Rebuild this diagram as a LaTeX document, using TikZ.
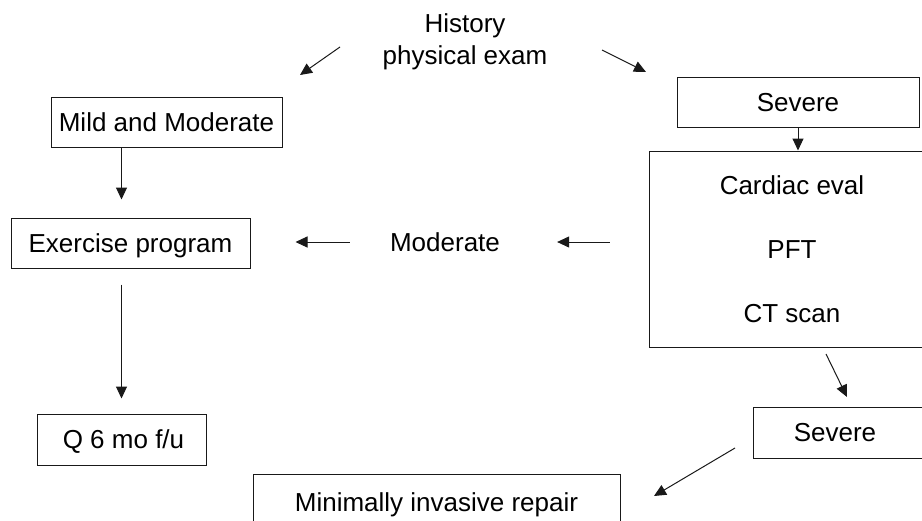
\documentclass[tikz,border=0pt]{standalone}
\usepackage{fontspec}
\setmainfont{Liberation Sans}
\usetikzlibrary{positioning, arrows.meta, calc}

\begin{document}
\begin{tikzpicture}[
        x=1pt, y=-1pt,
        font=\fontsize{26}{32}\selectfont,
        % Estilo para las cajas
        box/.style={
            draw=black!90,
            line width=1pt,
            rectangle,
            inner sep=0pt,
            align=center
        },
        % Una sola linea, centrada en las mayusculas
        oneline/.style={text height=24pt, text depth=5.4pt},
        % Texto sin marco
        plain/.style={inner sep=0pt, align=center},
        % Flechas
        arrow/.style={-{Triangle[length=12pt,width=11pt]}, line width=1pt, color=black!90}
    ]
        \useasboundingbox (0,0) rectangle (922,520);
        \clip (0,0) rectangle (922,520);

        % Nodo inicial
        \node[plain] (hist) at (465,42) {History\\physical exam};

        % Rama izquierda
        \node[box, oneline, minimum width=231pt, minimum height=50pt] (mild) at (166.5,122) {Mild and Moderate};
        \node[box, oneline, minimum width=239pt, minimum height=50pt] (exer) at (130.5,243) {Exercise program};
        \node[box, oneline, minimum width=169pt, minimum height=51pt] (qfu) at (121.5,439.5) {\hspace{4pt}Q 6 mo f/u};

        % Rama derecha
        \node[box, oneline, minimum width=242pt, minimum height=50pt] (sev1) at (798,102) {Severe};
        \node[box, minimum width=286pt, minimum height=196pt] (eval) at (792,249)
            {Cardiac eval\\[32pt] PFT\\[32pt] CT scan};
        \node[box, oneline, minimum width=172pt, minimum height=51pt] (sev2) at (839,432.5) {Severe\hspace{8pt}};
        \node[box, oneline, minimum width=367pt, minimum height=56pt] (mir) at (436.5,502) {Minimally invasive repair};

        % Texto intermedio
        \node[plain, oneline] (mod) at (445,242) {Moderate};

        % Puntos libres de las flechas diagonales
        \coordinate (hl0) at (340,47);
        \coordinate (hl1) at (300,75);
        \coordinate (hr0) at (602,50);
        \coordinate (hr1) at (646,72);
        \coordinate (ct0) at (826,354);
        \coordinate (ct1) at (847,397);
        \coordinate (sv0) at (735,448);
        \coordinate (sv1) at (654,496);

        % Flechas
        \draw[arrow] (hl0) -- (hl1);
        \draw[arrow] (hr0) -- (hr1);
        \draw[arrow, shorten >=18pt] (mild.south -| qfu.north) -- (exer.north -| qfu.north);
        \draw[arrow, shorten <=16pt, shorten >=15pt] (exer.south -| qfu.north) -- (qfu.north);
        \draw[arrow] (sev1.south) -- (sev1.south |- eval.north);
        \draw[arrow, shorten <=39pt, shorten >=57pt] (mod.east -| eval.west) -- (mod.east);
        \draw[arrow, shorten <=40pt, shorten >=45pt] (mod.west) -- (mod.west -| exer.east);
        \draw[arrow] (ct0) -- (ct1);
        \draw[arrow] (sv0) -- (sv1);

    \end{tikzpicture}
\end{document}
